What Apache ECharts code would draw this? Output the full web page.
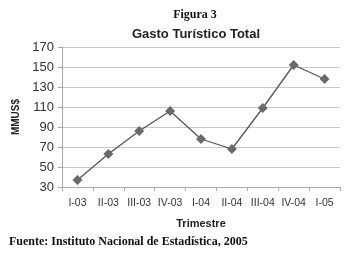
<!DOCTYPE html>
<html><head><meta charset="utf-8">
<script src="https://cdn.jsdelivr.net/npm/echarts@6/dist/echarts.min.js"></script>
<style>html,body{margin:0;padding:0;background:#fff}#c{width:347px;height:256px}</style>
</head><body><div id="c"></div>
<script>
const categories = ["I-03","II-03","III-03","IV-03","I-04","II-04","III-04","IV-04","I-05"];
const values = [37, 63, 86, 106, 78, 68, 109, 152, 138];
const yTicks = [30, 50, 70, 90, 110, 130, 150, 170];

const chart = echarts.init(document.getElementById('c'), null, {renderer:'canvas'});
chart.setOption({
  animation: false,
  backgroundColor: '#fff',
  title: [
    {text: 'Figura 3', left: 190, textAlign: 'center', top: 4, textStyle: {fontFamily: 'Liberation Serif', fontWeight: 'bold', fontSize: 12, color: '#111'}},
    {text: 'Gasto Turístico Total', left: 191, textAlign: 'center', top: 23, textStyle: {fontFamily: 'Liberation Sans', fontWeight: 'bold', fontSize: 13, color: '#222'}},
    {text: 'Fuente: Instituto Nacional de Estadística, 2005', left: 4, top: 231, textStyle: {fontFamily: 'Liberation Serif', fontWeight: 'bold', fontSize: 12, color: '#111'}}
  ],
  grid: {left: 62, right: 7, top: 47, bottom: 69},
  xAxis: {
    type: 'category', data: categories, boundaryGap: true,
    name: 'Trimestre', nameLocation: 'middle', nameGap: 31,
    nameTextStyle: {fontFamily: 'Liberation Sans', fontWeight: 'bold', fontSize: 11, color: '#222'},
    axisLine: {lineStyle: {color: '#aaa'}},
    axisTick: {show: true, length: 4, lineStyle: {color: '#aaa'}},
    axisLabel: {fontFamily: 'Liberation Sans', fontSize: 10.5, color: '#333', margin: 11, interval: 0}
  },
  yAxis: {
    type: 'value', min: 30, max: 170, interval: 20,
    name: 'MMUS$', nameLocation: 'middle', nameGap: 40, nameRotate: 90,
    nameTextStyle: {fontFamily: 'Liberation Sans', fontWeight: 'bold', fontSize: 10, color: '#222'},
    axisLine: {show: true, lineStyle: {color: '#aaa'}},
    axisTick: {show: true, length: 4, lineStyle: {color: '#aaa'}},
    axisLabel: {fontFamily: 'Liberation Sans', fontSize: 13, color: '#333', margin: 8,
      formatter: v => yTicks.includes(v) ? String(v) : ''},
    splitLine: {lineStyle: {color: '#c8c8c8'}}
  },
  series: [{
    type: 'line', data: values,
    symbol: 'diamond', symbolSize: 10,
    lineStyle: {color: '#555', width: 1.3},
    itemStyle: {color: '#6a6a6a'}
  }]
});
</script></body></html>
